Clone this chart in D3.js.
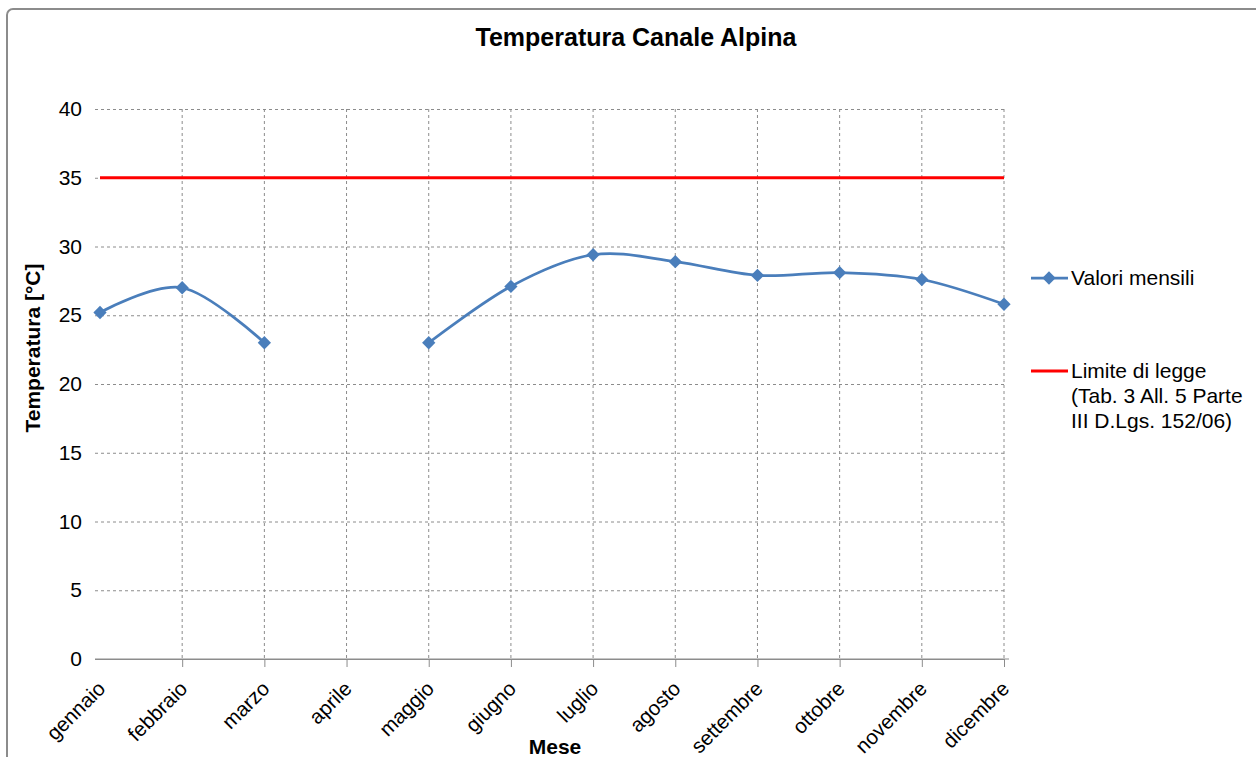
<!DOCTYPE html>
<html>
<head>
<meta charset="utf-8">
<script src="https://cdn.jsdelivr.net/npm/d3@7"></script>
<style>
  body { margin: 0; background: #fff; }
  svg { display: block; font-family: "Liberation Sans", Arial, sans-serif; }
</style>
</head>
<body>
<div id="chart"></div>
<script>
let mesi = ["gennaio", "febbraio", "marzo", "aprile", "maggio", "giugno",
  "luglio", "agosto", "settembre", "ottobre", "novembre", "dicembre"];
let valori = [25.2, 27.0, 23.0, null, 23.0, 27.1, 29.4, 28.9, 27.9, 28.1, 27.6, 25.8];
let limite = 35;
let yTicks = [0, 5, 10, 15, 20, 25, 30, 35, 40];
let legenda = ["Valori mensili", "Limite di legge", "(Tab. 3 All. 5 Parte", "III D.Lgs. 152/06)"];

let width = 1256;
let height = 757;
let blu = "#4a7ebb";
let grigio = "#8c8c8c";

let svg = d3.select("#chart").append("svg")
  .attr("width", width)
  .attr("height", height);

// cornice
svg.append("rect")
  .attr("x", 7).attr("y", 9)
  .attr("width", 1400).attr("height", 900)
  .attr("rx", 6)
  .attr("fill", "none")
  .attr("stroke", grigio)
  .attr("stroke-width", 2);

let x = d3.scalePoint().domain(mesi).range([100, 1004]);
let y = d3.scaleLinear().domain([0, 40]).range([659, 109]);

// asse y con griglia
let yAxis = svg.append("g")
  .attr("transform", "translate(95,0)")
  .call(d3.axisLeft(y).tickValues(yTicks).tickSize(-909).tickPadding(13));
yAxis.select(".domain").remove();
yAxis.selectAll("line")
  .attr("stroke", grigio)
  .attr("stroke-dasharray", (d) => d == 0 ? null : "3,3");
yAxis.selectAll("text")
  .attr("font-size", "21px")
  .attr("fill", "#000");

// griglia verticale
svg.append("g").selectAll("line")
  .data(mesi.slice(1))
  .enter()
  .append("line")
  .attr("x1", (d) => x(d)).attr("x2", (d) => x(d))
  .attr("y1", y(40)).attr("y2", y(0))
  .attr("stroke", grigio)
  .attr("stroke-dasharray", "3,3");

// asse x
let xAxis = svg.append("g")
  .attr("transform", "translate(0," + y(0) + ")")
  .call(d3.axisBottom(x).tickSize(8).tickSizeOuter(0));
xAxis.select(".domain")
  .attr("d", "M95,0H1009")
  .attr("stroke", grigio);
xAxis.selectAll(".tick line")
  .attr("stroke", grigio)
  .filter((d) => d == "gennaio").remove();
xAxis.selectAll("text")
  .attr("font-size", "20.5px")
  .attr("fill", "#000")
  .attr("text-anchor", "end")
  .attr("y", null).attr("dy", null)
  .attr("transform", "translate(6,31) rotate(-45)");

// limite di legge
svg.append("line")
  .attr("x1", x("gennaio")).attr("x2", x("dicembre"))
  .attr("y1", y(limite)).attr("y2", y(limite))
  .attr("stroke", "#ff0000")
  .attr("stroke-width", 3);

// valori mensili
let punti = mesi.map((m, i) => ({ mese: m, v: valori[i] }));

let linea = d3.line()
  .defined((d) => d.v != null)
  .x((d) => x(d.mese))
  .y((d) => y(d.v))
  .curve(d3.curveCatmullRom.alpha(0));

svg.append("path")
  .datum(punti)
  .attr("d", linea)
  .attr("fill", "none")
  .attr("stroke", blu)
  .attr("stroke-width", 2.75);

let diamante = d3.symbol().type(d3.symbolSquare).size(88);

svg.append("g").selectAll("path")
  .data(punti.filter((d) => d.v != null))
  .enter()
  .append("path")
  .attr("d", diamante)
  .attr("transform", (d) => "translate(" + x(d.mese) + "," + y(d.v) + ") rotate(45)")
  .attr("fill", blu);

// titoli
svg.append("text")
  .attr("x", 636).attr("y", 46)
  .attr("text-anchor", "middle")
  .attr("font-size", "25px")
  .attr("font-weight", "bold")
  .text("Temperatura Canale Alpina");

svg.append("text")
  .attr("x", 555).attr("y", 754)
  .attr("text-anchor", "middle")
  .attr("font-size", "21px")
  .attr("font-weight", "bold")
  .text("Mese");

svg.append("text")
  .attr("transform", "translate(40,348) rotate(-90)")
  .attr("text-anchor", "middle")
  .attr("font-size", "21px")
  .attr("font-weight", "bold")
  .text("Temperatura [°C]");

// legenda
let leg = svg.append("g");

leg.append("line")
  .attr("x1", 1031).attr("x2", 1068)
  .attr("y1", 278).attr("y2", 278)
  .attr("stroke", blu)
  .attr("stroke-width", 2.75);
leg.append("path")
  .attr("d", diamante)
  .attr("transform", "translate(1049,278) rotate(45)")
  .attr("fill", blu);
leg.append("text")
  .attr("x", 1071).attr("y", 285)
  .attr("font-size", "21px")
  .text(legenda[0]);

leg.append("line")
  .attr("x1", 1031).attr("x2", 1068)
  .attr("y1", 371).attr("y2", 371)
  .attr("stroke", "#ff0000")
  .attr("stroke-width", 3);
leg.append("text")
  .attr("x", 1071).attr("y", 378)
  .attr("font-size", "21px")
  .selectAll("tspan")
  .data(legenda.slice(1))
  .enter()
  .append("tspan")
  .attr("x", 1071)
  .attr("dy", (d, i) => i == 0 ? 0 : 25)
  .text((d) => d);
</script>
</body>
</html>
